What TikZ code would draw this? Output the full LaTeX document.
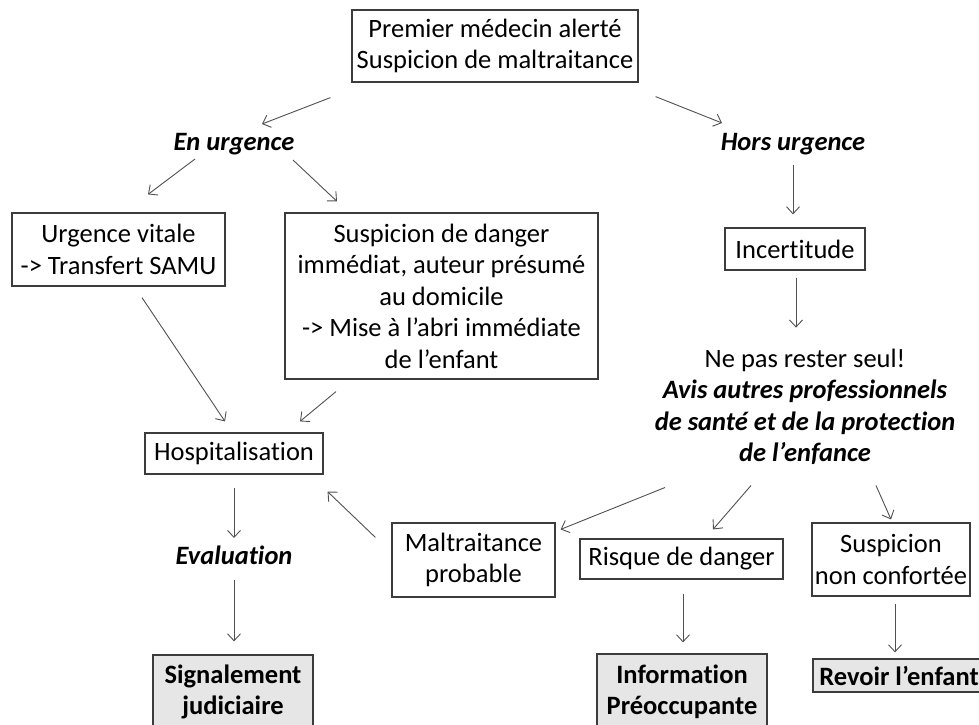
\documentclass[tikz,border=0pt]{standalone}
\usepackage{fontspec}
\setmainfont{Carlito}[Ligatures=NoCommon]
\usetikzlibrary{arrows.meta,calc}
\definecolor{boxline}{HTML}{3C3C3C}
\definecolor{arrline}{HTML}{505050}
\definecolor{grayfill}{HTML}{E6E6E6}
\begin{document}
\begin{tikzpicture}[x=1pt,y=-1pt,
  txt/.style={font=\fontsize{26.5}{31.5}\selectfont, text=black, align=center, inner sep=0pt},
  box/.style={txt, draw=boxline, line width=1.2pt},
  gbox/.style={box, fill=grayfill, font=\fontsize{26.5}{31.5}\selectfont\bfseries},
  em/.style={txt, font=\fontsize{26.5}{31.5}\selectfont\bfseries\itshape},
  arr/.style={draw=arrline, line width=0.9pt, -{Straight Barb[length=7pt,width=13pt]}}]
\useasboundingbox (0,0) rectangle (979,724);

% nodes
\node[box, minimum width=286pt, minimum height=72pt] (top) at (495,46) {Premier médecin alerté\\Suspicion de maltraitance};
\node[em] (enurg) at (234,144) {En urgence};
\node[em] (hors) at (793,144) {Hors urgence};
\node[box, minimum width=213pt, minimum height=73pt] (uv) at (118.5,249.5) {Urgence vitale\\-> Transfert SAMU};
\node[box, minimum width=313pt, minimum height=166pt] (sd) at (441.5,296) {Suspicion de danger\\immédiat, auteur présumé\\au domicile\\-> Mise à l’abri immédiate\\de l’enfant};
\node[box, minimum width=140pt, minimum height=42pt] (inc) at (795,249) {Incertitude};
\node[txt] (nepas) at (805,407) {Ne pas rester seul!\\\textbf{\textit{Avis autres professionnels}}\\\textbf{\textit{de santé et de la protection}}\\\textbf{\textit{de l’enfance}}};
\node[box, minimum width=178pt, minimum height=41pt] (hosp) at (234,453.5) {Hospitalisation};
\node[em] (eval) at (234,555) {Evaluation};
\node[gbox, minimum width=160pt, minimum height=74pt] (sig) at (233,692) {Signalement\\judiciaire};
\node[box, minimum width=163pt, minimum height=74pt] (mp) at (473.5,560) {Maltraitance\\probable};
\node[box, minimum width=203pt, minimum height=40pt] (rd) at (681.5,559) {Risque de danger};
\node[box, minimum width=158pt, minimum height=73pt] (snc) at (891,559.5) {Suspicion\\non confortée};
\node[gbox, minimum width=170pt, minimum height=76pt] (info) at (682,692) {Information\\Préoccupante};
\node[gbox, minimum width=172pt, minimum height=33pt] (rev) at (899,675.5) {Revoir l’enfant};

% connectors
\draw[arr] ($(top.south west)+(-21,15)$) -- ($(enurg)+(28,-20)$);
\draw[arr] ($(top.south east)+(17,14)$) -- ($(hors)+(-71,-21)$);
\draw[arr] ($(enurg)+(-39,15)$) -- ($(uv.north)+(29.5,-18)$);
\draw[arr] ($(enurg)+(59,16)$) -- ($(sd.north)+(-104.5,-11)$);
\draw[arr] ($(hors)+(0,21)$) -- ($(inc.north)+(-2,-13)$);
\draw[arr] ($(inc.south)+(1,7)$) -- ($(inc.south)+(1,57)$);
\draw[arr] ($(uv.south)+(23.5,11)$) -- ($(hosp.north)+(-9,-11)$);
\draw[arr] ($(sd.south)+(-105.5,12)$) -- ($(hosp.north)+(66,-11)$);
\draw[arr] ($(hosp.south)+(0,13)$) -- ($(eval)+(0,-17)$);
\draw[arr] ($(eval)+(0,25)$) -- ($(sig.north)+(1,-13)$);
\draw[arr] ($(mp.north west)+(-16,15)$) -- ($(hosp.south east)+(4,17)$);
\draw[arr] ($(nepas)+(-140,80.5)$) -- ($(mp.north east)+(5,7)$);
\draw[arr] ($(nepas)+(-54,78.5)$) -- ($(rd.north)+(31.5,-9)$);
\draw[arr] ($(nepas)+(71,78.5)$) -- ($(snc.north)+(0,-3)$);
\draw[arr] ($(rd.south)+(1.5,14)$) -- ($(info.north)+(1,-11)$);
\draw[arr] ($(snc.south)+(4,7)$) -- ($(rev.north)+(-4,-6)$);
\end{tikzpicture}
\end{document}
